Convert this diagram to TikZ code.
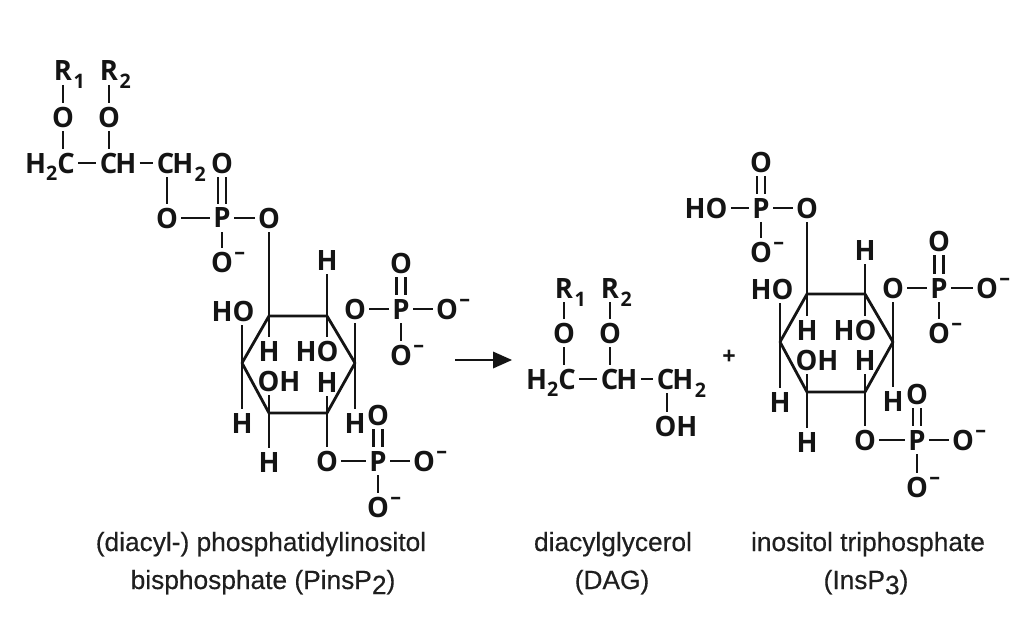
\documentclass[tikz,border=0pt]{standalone}
\usepackage{fontspec}
\setmainfont{Liberation Sans}[BoldFont=Liberation Sans,BoldFeatures={FakeBold=0.35}]
\newfontfamily\atomfont{Open Sans}[FakeStretch=0.98]
\newcommand{\dn}[1]{\smash{\raisebox{-7pt}{\fontsize{20}{20}\selectfont #1}}}
\newcommand{\rsub}[1]{\rlap{\smash{\raisebox{-8pt}{\fontsize{20}{20}\selectfont\kern1.5pt #1}}}}
\newcommand{\chg}{\rlap{\smash{\raisebox{13pt}{\kern1.5pt\fontsize{22}{22}\selectfont –}}}}
\tikzset{
  atom/.style={inner xsep=3.5pt,inner ysep=4pt,outer sep=0pt,font=\atomfont\bfseries\fontsize{28}{28}\selectfont,text=black!92},
  bond/.style={line width=2.8pt,draw=black!92},
  caption/.style={inner sep=0pt,font=\bfseries\fontsize{26.3}{26.3}\selectfont,text=black!88}
}
\newcommand{\dbl}[3]{\draw[bond] ([xshift=-#3pt]#1.south) -- ([xshift=-#3pt]#2.north);\draw[bond] ([xshift=#3pt]#1.south) -- ([xshift=#3pt]#2.north);}
\begin{document}
\begin{tikzpicture}[x=1pt,y=-1pt]
\useasboundingbox (0,0) rectangle (1024,643);
\fill[white] (0,0) rectangle (1024,643);
% --- PIP2 lipid part
\node[atom] (aR1) at (63,71) {R\rsub{1}};
\node[atom] (aR2) at (109,71) {R\rsub{2}};
\node[atom] (aO1) at (63,117) {O};
\node[atom] (aO2) at (109,117) {O};
\node[atom] (aC1) at (50,163) {H\dn{2}C};
\node[atom] (aC2) at (118,163) {C\kern-2pt H};
\node[atom] (aC3) at (175,163) {C\kern-2pt H\rsub{2}};
\node[atom] (aO3) at (222,163) {O};
\node[atom] (aO4) at (167,218) {O};
\node[atom] (aP) at (222,218) {P};
\node[atom] (aO5) at (269,218) {O};
\node[atom] (aO6) at (222,262) {O\chg};
\draw[bond] (aR1) -- (aO1);
\draw[bond] (aR2) -- (aO2);
\draw[bond] (aO1) -- (aO1 |- aC1.north);
\draw[bond] (aO2) -- (aO2 |- aC2.north);
\draw[bond] (aC1) -- (aC2);
\draw[bond] (aC2) -- (aC3);
\draw[bond] (aO4) -- (aO4 |- aC3.south);
\dbl{aO3}{aP}{4}
\draw[bond] (aO4) -- (aP);
\draw[bond] (aP) -- (aO5);
\draw[bond] (aP) -- (aO6);
% --- PIP2 ring
\coordinate (a1) at (269,316);
\coordinate (a2) at (327,316);
\coordinate (a3) at (355,363);
\coordinate (a4) at (327,413);
\coordinate (a5) at (269,413);
\coordinate (a6) at (242,363);
\draw[bond,line join=round] (a1) -- (a2) -- (a3) -- (a4) -- (a5) -- (a6) -- cycle;
\draw[bond] (aO5) -- (a1);
\node[atom] (aH1) at (327,260) {H};
\node[atom] (aO7) at (355,309) {O};
\node[atom] (aH2) at (355,423) {H};
\node[atom] (aHO1) at (233,311) {HO};
\node[atom] (aH3) at (242,423) {H};
\node[atom] (aH4) at (269,351) {H};
\node[atom] (aHO2) at (317,351) {HO};
\node[atom] (aOH) at (279,381) {OH};
\node[atom] (aH5) at (327,382) {H};
\node[atom] (aH6) at (269,462) {H};
\node[atom] (aO8) at (327,461) {O};
\draw[bond] (aH1) -- (a2);
\draw[bond] (aO7) -- (aH2);
\draw[bond] (a6 |- aHO1.south) -- (aH3);
\draw[bond] (a1) -- (aH4);
\draw[bond] (a2) -- (a2 |- aHO2.north);
\draw[bond] (a5) -- (a5 |- aOH.south);
\draw[bond] (a4) -- (aH5);
\draw[bond] (a5) -- (aH6);
\draw[bond] (a4) -- (aO8);
% upper phosphate
\node[atom] (aO9) at (401,263) {O};
\node[atom] (aP2) at (401,309) {P};
\node[atom] (aO10) at (447,309) {O\chg};
\node[atom] (aO11) at (401,355) {O\chg};
\dbl{aO9}{aP2}{4.5}
\draw[bond] (aO7) -- (aP2);
\draw[bond] (aP2) -- (aO10);
\draw[bond] (aP2) -- (aO11);
% lower phosphate
\node[atom] (aO12) at (378,415) {O};
\node[atom] (aP3) at (378,461) {P};
\node[atom] (aO13) at (424,461) {O\chg};
\node[atom] (aO14) at (378,507) {O\chg};
\dbl{aO12}{aP3}{4.5}
\draw[bond] (aO8) -- (aP3);
\draw[bond] (aP3) -- (aO13);
\draw[bond] (aP3) -- (aO14);
% --- arrow
\coordinate (arrS) at (455,360);
\coordinate (arrH) at (493,360);
\coordinate (arrE) at (512,360);
\draw[bond] (arrS) -- (arrH);
\fill[black!92] (arrE) -- ++(-19,-8.5) -- ++(0,17) -- cycle;
% --- DAG
\node[atom] (bR1) at (564,288) {R\rsub{1}};
\node[atom] (bR2) at (610,288) {R\rsub{2}};
\node[atom] (bO1) at (564,333) {O};
\node[atom] (bO2) at (610,333) {O};
\node[atom] (bC1) at (551,379) {H\dn{2}C};
\node[atom] (bC2) at (619,379) {C\kern-2pt H};
\node[atom] (bC3) at (675,379) {C\kern-2pt H\rsub{2}};
\node[atom] (bOH) at (676,426) {OH};
\coordinate (bx) at (667,400);
\draw[bond] (bR1) -- (bO1);
\draw[bond] (bR2) -- (bO2);
\draw[bond] (bO1) -- (bO1 |- bC1.north);
\draw[bond] (bO2) -- (bO2 |- bC2.north);
\draw[bond] (bC1) -- (bC2);
\draw[bond] (bC2) -- (bC3);
\draw[bond] (bx |- bC3.south) -- (bx |- bOH.north);
\node[atom,font=\atomfont\bfseries\fontsize{24}{24}\selectfont] (plus) at (729,357) {+};
% --- IP3 top phosphate
\node[atom] (cO1) at (761,162) {O};
\node[atom] (cP1) at (761,208) {P};
\node[atom] (cHO) at (706,208) {HO};
\node[atom] (cO2) at (807,208) {O};
\node[atom] (cO3) at (761,252) {O\chg};
\dbl{cO1}{cP1}{4}
\draw[bond] (cHO) -- (cP1);
\draw[bond] (cP1) -- (cO2);
\draw[bond] (cP1) -- (cO3);
% ring
\coordinate (c1) at (807,294);
\coordinate (c2) at (865,294);
\coordinate (c3) at (893,342);
\coordinate (c4) at (865,392);
\coordinate (c5) at (807,392);
\coordinate (c6) at (780,342);
\draw[bond,line join=round] (c1) -- (c2) -- (c3) -- (c4) -- (c5) -- (c6) -- cycle;
\draw[bond] (cO2) -- (c1);
\node[atom] (cH1) at (865,250) {H};
\node[atom] (cO4) at (893,288) {O};
\node[atom] (cH2) at (893,401) {H};
\node[atom] (cHO1) at (772,289) {HO};
\node[atom] (cH3) at (780,402) {H};
\node[atom] (cH4) at (807,330) {H};
\node[atom] (cHO2) at (855,330) {HO};
\node[atom] (cOH) at (817,360) {OH};
\node[atom] (cH5) at (865,360) {H};
\node[atom] (cH6) at (807,442) {H};
\node[atom] (cO5) at (865,440) {O};
\draw[bond] (cH1) -- (c2);
\draw[bond] (cO4) -- (cH2);
\draw[bond] (c6 |- cHO1.south) -- (cH3);
\draw[bond] (c1) -- (cH4);
\draw[bond] (c2) -- (c2 |- cHO2.north);
\draw[bond] (c5) -- (c5 |- cOH.south);
\draw[bond] (c4) -- (cH5);
\draw[bond] (c5) -- (cH6);
\draw[bond] (c4) -- (cO5);
% right phosphate
\node[atom] (cO6) at (939,241) {O};
\node[atom] (cP2) at (939,288) {P};
\node[atom] (cO7) at (987,288) {O\chg};
\node[atom] (cO8) at (939,333) {O\chg};
\dbl{cO6}{cP2}{4.5}
\draw[bond] (cO4) -- (cP2);
\draw[bond] (cP2) -- (cO7);
\draw[bond] (cP2) -- (cO8);
% lower phosphate
\node[atom] (cO9) at (917,394) {O};
\node[atom] (cP3) at (917,440) {P};
\node[atom] (cO10) at (963,440) {O\chg};
\node[atom] (cO11) at (917,487) {O\chg};
\dbl{cO9}{cP3}{4}
\draw[bond] (cO5) -- (cP3);
\draw[bond] (cP3) -- (cO10);
\draw[bond] (cP3) -- (cO11);
% --- captions
\node[caption,anchor=base] (t1) at (261,551) {(diacyl-) phosphatidylinositol};
\node[caption,anchor=base] (t2) at (263,589) {bisphosphate (PinsP\raisebox{-5pt}{2})};
\node[caption,anchor=base] (t3) at (613,551) {diacylglycerol};
\node[caption,anchor=base] (t4) at (612,589) {(DAG)};
\node[caption,anchor=base] (t5) at (868,551) {inositol triphosphate};
\node[caption,anchor=base] (t6) at (866,589) {(InsP\raisebox{-5pt}{3})};
\end{tikzpicture}
\end{document}
